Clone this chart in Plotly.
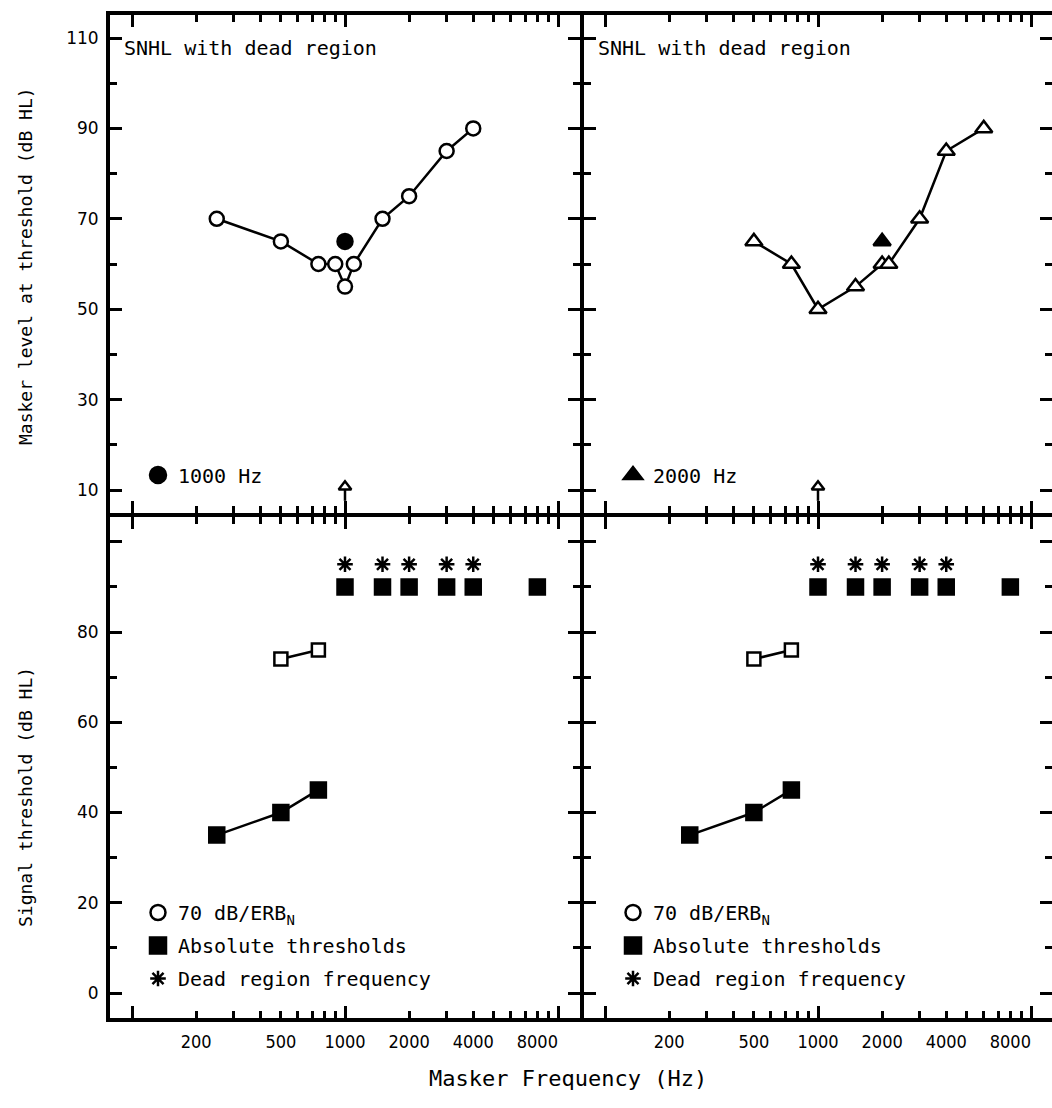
import plotly.graph_objects as go

# ---- upper panels: masker level at threshold (dB HL) ----
ptc_1k_freq = [250, 500, 750, 900, 1000, 1100, 1500, 2000, 3000, 4000]
ptc_1k_level = [70, 65, 60, 60, 55, 60, 70, 75, 85, 90]
sig_1k_freq = [1000]
sig_1k_level = [65]

ptc_2k_freq = [500, 750, 1000, 1500, 2000, 2150, 3000, 4000, 6000]
ptc_2k_level = [65, 60, 50, 55, 60, 60, 70, 85, 90]
sig_2k_freq = [2000]
sig_2k_level = [65]

edge_freq = [1000, 1000]      # arrow position (left, right panel)
edge_level = 10

# ---- lower panels: signal threshold (dB HL) ----
abs_low_freq = [250, 500, 750]
abs_low_level = [35, 40, 45]
erb_freq = [500, 750]
erb_level = [74, 76]
abs_high_freq = [1000, 1500, 2000, 3000, 4000, 8000]
abs_high_level = [90, 90, 90, 90, 90, 90]
dead_freq = [1000, 1500, 2000, 3000, 4000]
dead_level = [95, 95, 95, 95, 95]

# ---- axis ticks ----
x_major = [100, 1000, 10000]
x_minor = [200, 300, 400, 500, 600, 700, 800, 900,
           2000, 3000, 4000, 5000, 6000, 7000, 8000, 9000]
x_label_vals = [200, 500, 1000, 2000, 4000, 8000]
x_label_text = ["200", "500", "1000", "2000", "4000", "8000"]

top_major = [10, 30, 50, 70, 90, 110]
top_minor = [20, 40, 60, 80, 100]
bot_major = [0, 20, 40, 60, 80, 100]
bot_major_text = ["0", "20", "40", "60", "80", ""]
bot_minor = [10, 30, 50, 70, 90]

MONO = "DejaVu Sans Mono"
NARROW = "DejaVu Sans Condensed, Liberation Sans Narrow, Liberation Sans, sans-serif"
BLK = "black"
LW = 4  # frame line width

fig = go.Figure()


def series(x, y, xa, ya, symbol, filled, size, lines=True):
    fig.add_trace(go.Scatter(
        x=x, y=y, xaxis=xa, yaxis=ya,
        mode="lines+markers" if lines else "markers",
        line=dict(color=BLK, width=2.5),
        marker=dict(symbol=symbol, size=size,
                    color=BLK if filled else "white",
                    line=dict(color=BLK, width=2.5)),
        showlegend=False, hoverinfo="skip", cliponaxis=False))


def arrow(xv, xa, ya):
    # stem plus open head marking the dead-region edge
    fig.add_trace(go.Scatter(
        x=[xv, xv], y=[edge_level - 2.4, edge_level + 0.3], xaxis=xa, yaxis=ya,
        mode="lines", line=dict(color=BLK, width=2.5),
        showlegend=False, hoverinfo="skip"))
    fig.add_trace(go.Scatter(
        x=[xv], y=[edge_level + 0.7], xaxis=xa, yaxis=ya, mode="markers",
        marker=dict(symbol="triangle-up", size=11, color="white",
                    line=dict(color=BLK, width=2.5)),
        showlegend=False, hoverinfo="skip"))


def key(name, symbol, filled, size, legend, xa, ya):
    fig.add_trace(go.Scatter(
        x=[None], y=[None], xaxis=xa, yaxis=ya, mode="markers", name=name,
        marker=dict(symbol=symbol, size=size,
                    color=BLK if filled else "white",
                    line=dict(color=BLK, width=2.5)),
        legend=legend, legendgroup=legend + name, showlegend=True))


# upper left: 1000 Hz signal
series(ptc_1k_freq, ptc_1k_level, "x", "y", "circle", False, 14)
series(sig_1k_freq, sig_1k_level, "x", "y", "circle", True, 15, lines=False)
arrow(edge_freq[0], "x", "y")
key("1000 Hz", "circle", True, 16, "legend", "x", "y")

# upper right: 2000 Hz signal
series(ptc_2k_freq, ptc_2k_level, "x2", "y2", "triangle-up", False, 15)
series(sig_2k_freq, sig_2k_level, "x2", "y2", "triangle-up", True, 15, lines=False)
arrow(edge_freq[1], "x2", "y2")
key("2000 Hz", "triangle-up", True, 16, "legend2", "x2", "y2")

# lower panels
for xa, ya, lg in (("x3", "y3", "legend3"), ("x4", "y4", "legend4")):
    series(erb_freq, erb_level, xa, ya, "square", False, 13)
    series(abs_low_freq, abs_low_level, xa, ya, "square", True, 15)
    series(abs_high_freq, abs_high_level, xa, ya, "square", True, 15, lines=False)
    series(dead_freq, dead_level, xa, ya, "asterisk-open", True, 13, lines=False)
    key("70 dB/ERB<sub>N</sub>", "circle", False, 15, lg, xa, ya)
    key("Absolute thresholds", "square", True, 16, lg, xa, ya)
    key("Dead region frequency", "asterisk-open", True, 13, lg, xa, ya)

# empty traces that carry the overlay axes (tick labels / right-hand ticks)
for xa, ya in (("x5", "y3"), ("x6", "y4"), ("x2", "y5"), ("x4", "y6")):
    fig.add_trace(go.Scatter(x=[None], y=[None], xaxis=xa, yaxis=ya,
                             mode="markers", showlegend=False, hoverinfo="skip"))

# ---- geometry (pixels) ----
W, H = 1052, 1108
ML, MR, MT, MB = 110, 0, 15, 90
PW, PH = W - ML - MR, H - MT - MB


def px_x(p):
    return (p - ML) / PW


def px_y(p):
    return (H - MB - p) / PH


# panels are separated by a gap of one frame-line width so that the
# neighbouring frame lines coincide
left_dom = [0, px_x(580)]
right_dom = [px_x(584), 1]
top_dom = [px_y(513), 1]
bot_dom = [0, px_y(517)]

DEC = 213.0           # pixels per decade
XR_L = [2 - 22 / DEC, 2 + 448 / DEC]
XR_R = [2 - 21 / DEC, 2 + 447 / DEC]
PY_T = 4.52           # pixels per dB, upper panels
PY_B = 4.5125         # pixels per dB, lower panels
YR_T = [10 - 23 / PY_T, 10 + 475 / PY_T]
YR_B = [-25 / PY_B, 476 / PY_B]


def xaxis_cfg(dom, rng, anchor):
    return dict(type="log", domain=dom, range=rng, anchor=anchor,
                showline=True, linewidth=LW, linecolor=BLK, mirror="ticks",
                ticks="inside", tickmode="array", tickvals=x_major,
                ticklen=12, tickwidth=3, tickcolor=BLK,
                minor=dict(tickmode="array", tickvals=x_minor, ticks="inside",
                           ticklen=7, tickwidth=3, tickcolor=BLK),
                showticklabels=False, showgrid=False, zeroline=False,
                fixedrange=True)


def xlabel_cfg(rng, anchor, over):
    return dict(type="log", range=rng, anchor=anchor, overlaying=over,
                side="bottom", showline=False, ticks="", tickmode="array",
                tickvals=x_label_vals, ticktext=x_label_text,
                tickfont=dict(family=NARROW, size=18, color=BLK),
                ticklabelstandoff=11, showgrid=False, zeroline=False,
                fixedrange=True)


def yaxis_cfg(dom, rng, anchor, major, text, minor, labels, mirror):
    return dict(domain=dom, range=rng, anchor=anchor,
                showline=True, linewidth=LW, linecolor=BLK,
                mirror="ticks" if mirror else False,
                ticks="inside", tickmode="array", tickvals=major, ticktext=text,
                ticklen=12, tickwidth=3, tickcolor=BLK,
                minor=dict(tickmode="array", tickvals=minor, ticks="inside",
                           ticklen=7, tickwidth=3, tickcolor=BLK),
                showticklabels=labels,
                tickfont=dict(family="DejaVu Sans", size=17, color=BLK),
                ticklabelstandoff=4,
                showgrid=False, zeroline=False, fixedrange=True)


def yright_cfg(rng, anchor, over, major, minor):
    return dict(range=rng, anchor=anchor, overlaying=over, side="right",
                showline=False, ticks="inside", tickmode="array", tickvals=major,
                ticklen=12, tickwidth=3, tickcolor=BLK,
                minor=dict(tickmode="array", tickvals=minor, ticks="inside",
                           ticklen=7, tickwidth=3, tickcolor=BLK),
                showticklabels=False, showgrid=False, zeroline=False,
                fixedrange=True)


top_text = [str(v) for v in top_major]

legend_common = dict(font=dict(family=MONO, size=20, color=BLK),
                     bgcolor="rgba(0,0,0,0)", borderwidth=0, itemwidth=30,
                     xanchor="left", traceorder="grouped", tracegroupgap=4,
                     itemclick=False)

fig.update_layout(
    width=W, height=H,
    margin=dict(l=ML, r=MR, t=MT, b=MB, pad=0),
    paper_bgcolor="white", plot_bgcolor="white",
    font=dict(family=MONO, color=BLK),
    xaxis=xaxis_cfg(left_dom, XR_L, "y"),
    xaxis2=xaxis_cfg(right_dom, XR_R, "y2"),
    xaxis3=xaxis_cfg(left_dom, XR_L, "y3"),
    xaxis4=xaxis_cfg(right_dom, XR_R, "y4"),
    xaxis5=xlabel_cfg(XR_L, "y3", "x3"),
    xaxis6=xlabel_cfg(XR_R, "y4", "x4"),
    yaxis=yaxis_cfg(top_dom, YR_T, "x", top_major, top_text, top_minor, True, True),
    yaxis2=yaxis_cfg(top_dom, YR_T, "x2", top_major, top_text, top_minor, False, False),
    yaxis3=yaxis_cfg(bot_dom, YR_B, "x3", bot_major, bot_major_text, bot_minor, True, True),
    yaxis4=yaxis_cfg(bot_dom, YR_B, "x4", bot_major, bot_major_text, bot_minor, False, False),
    yaxis5=yright_cfg(YR_T, "x2", "y2", top_major, top_minor),
    yaxis6=yright_cfg(YR_B, "x4", "y4", bot_major, bot_minor),
    legend=dict(x=px_x(138), y=px_y(475), yanchor="middle", **legend_common),
    legend2=dict(x=px_x(613), y=px_y(475), yanchor="middle", **legend_common),
    legend3=dict(x=px_x(138), y=px_y(893), yanchor="top", **legend_common),
    legend4=dict(x=px_x(613), y=px_y(893), yanchor="top", **legend_common),
    showlegend=True,
)

notes = [
    dict(text="SNHL with dead region", x=px_x(122), y=px_y(48),
         xanchor="left", yanchor="middle", font=dict(family=MONO, size=20)),
    dict(text="SNHL with dead region", x=px_x(596), y=px_y(48),
         xanchor="left", yanchor="middle", font=dict(family=MONO, size=20)),
    dict(text="Masker level at threshold (dB HL)", x=px_x(25), y=px_y(266),
         xanchor="center", yanchor="middle", textangle=-90,
         font=dict(family=MONO, size=18)),
    dict(text="Signal threshold (dB HL)", x=px_x(25), y=px_y(797),
         xanchor="center", yanchor="middle", textangle=-90,
         font=dict(family=MONO, size=18)),
    dict(text="Masker Frequency (Hz)", x=px_x(568), y=px_y(1078),
         xanchor="center", yanchor="middle", font=dict(family=MONO, size=22)),
]
for n in notes:
    n.update(xref="paper", yref="paper", showarrow=False)
    n["font"]["color"] = BLK
    fig.add_annotation(**n)

fig.write_html("out.html", config={"displayModeBar": False})
